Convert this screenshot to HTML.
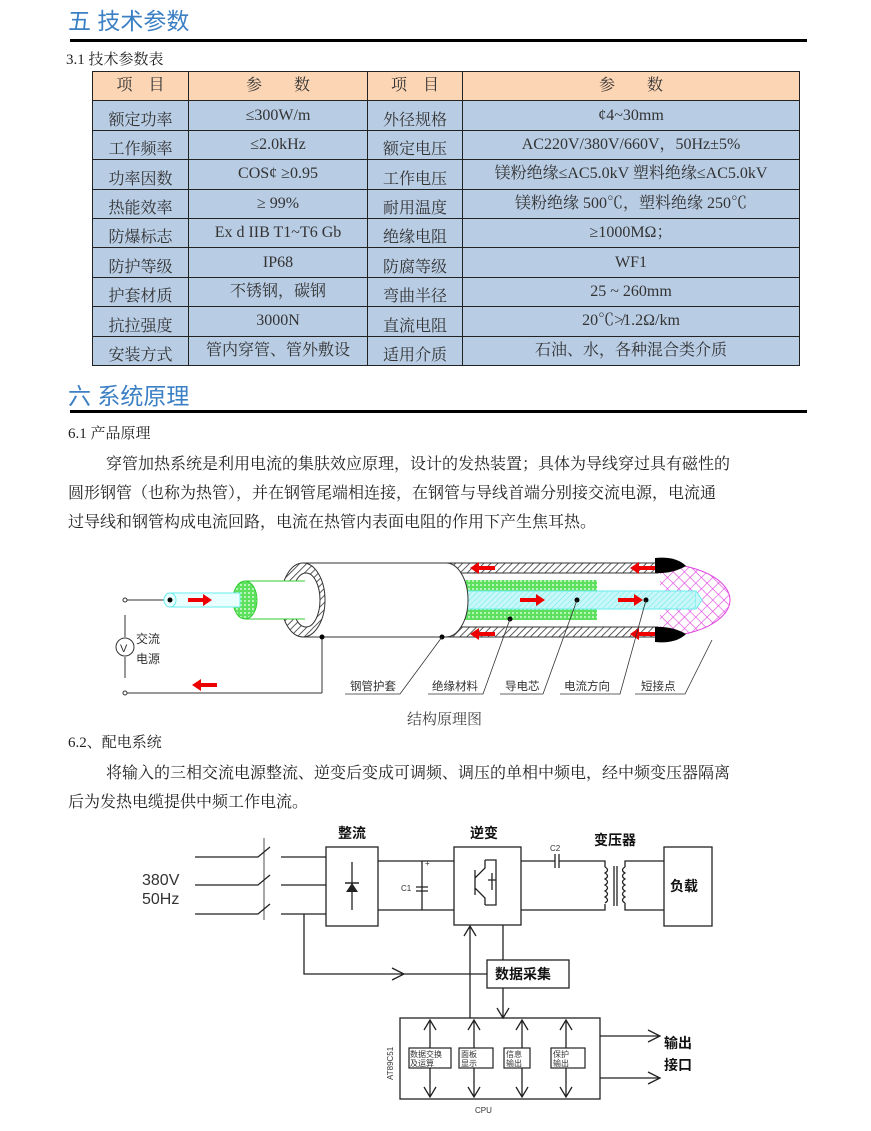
<!DOCTYPE html>
<html><head><meta charset="utf-8"><style>
body{margin:0;width:871px;height:1131px;background:#fff;position:relative;overflow:hidden;font-family:"Liberation Serif","Noto Serif CJK SC",serif;color:#222}
.a{position:absolute;white-space:nowrap}
.h{color:#3b7fc4;font-size:23px;font-family:"Liberation Sans","Noto Sans CJK SC",sans-serif}
.rule{position:absolute;left:70px;width:737px;height:3px;background:#000}
table{position:absolute;left:92px;top:71px;border-collapse:collapse;font-size:16px;table-layout:fixed;width:707px}
td{border:1.5px solid #222;text-align:center;padding:0;height:28px;line-height:18px;background:#b8cce4;color:#333;overflow:hidden;white-space:nowrap}
tr{height:29.4px}
tr:first-child td{background:#fcd5b4}
td.k{vertical-align:bottom}
.p{font-size:16px;left:68px;color:#222}
svg text{font-family:"Liberation Sans","Noto Sans CJK SC",sans-serif}
</style></head><body>
<div class="a h" style="left:68px;top:2px">五 技术参数</div>
<div class="rule" style="top:39px"></div>
<div class="a" style="left:66px;top:48px;font-size:15px">3.1 技术参数表</div>
<table>
<colgroup><col style="width:96px"><col style="width:179px"><col style="width:95px"><col style="width:337px"></colgroup>
<tr><td>项　目</td><td>参　　数</td><td>项　目</td><td>参　　数</td></tr>
<tr><td class="k">额定功率</td><td>≤300W/m</td><td class="k">外径规格</td><td>¢4~30mm</td></tr>
<tr><td class="k">工作频率</td><td>≤2.0kHz</td><td class="k">额定电压</td><td>AC220V/380V/660V，50Hz±5%</td></tr>
<tr><td class="k">功率因数</td><td>COS¢ ≥0.95</td><td class="k">工作电压</td><td>镁粉绝缘≤AC5.0kV 塑料绝缘≤AC5.0kV</td></tr>
<tr><td class="k">热能效率</td><td>≥ 99%</td><td class="k">耐用温度</td><td>镁粉绝缘 500℃，塑料绝缘 250℃</td></tr>
<tr><td class="k">防爆标志</td><td>Ex d IIB T1~T6 Gb</td><td class="k">绝缘电阻</td><td>≥1000MΩ；</td></tr>
<tr><td class="k">防护等级</td><td>IP68</td><td class="k">防腐等级</td><td>WF1</td></tr>
<tr><td class="k">护套材质</td><td>不锈钢，碳钢</td><td class="k">弯曲半径</td><td>25 ~ 260mm</td></tr>
<tr><td class="k">抗拉强度</td><td>3000N</td><td class="k">直流电阻</td><td>20℃≯1.2Ω/km</td></tr>
<tr><td class="k">安装方式</td><td>管内穿管、管外敷设</td><td class="k">适用介质</td><td>石油、水，各种混合类介质</td></tr>
</table>
<div class="a h" style="left:68px;top:377px">六 系统原理</div>
<div class="rule" style="top:410px"></div>
<div class="a p" style="top:422px;font-size:15px">6.1 产品原理</div>
<div class="a p" style="top:451px;left:106px">穿管加热系统是利用电流的集肤效应原理，设计的发热装置；具体为导线穿过具有磁性的</div>
<div class="a p" style="top:480px">圆形钢管（也称为热管），并在钢管尾端相连接，在钢管与导线首端分别接交流电源，电流通</div>
<div class="a p" style="top:509px">过导线和钢管构成电流回路，电流在热管内表面电阻的作用下产生焦耳热。</div>

<svg class="a" style="left:0;top:540px" width="871" height="200" viewBox="0 540 871 200">
<defs>
<pattern id="hat" width="5" height="5" patternUnits="userSpaceOnUse" patternTransform="rotate(45)"><rect width="5" height="5" fill="#fff"/><line x1="0" y1="0" x2="0" y2="5" stroke="#333" stroke-width="1.6"/></pattern>
<pattern id="grn" width="4" height="4" patternUnits="userSpaceOnUse"><rect width="4" height="4" fill="#5de05d"/><rect width="2" height="2" fill="#b8f5b8"/></pattern>
<pattern id="cy" width="4" height="4" patternUnits="userSpaceOnUse" patternTransform="rotate(45)"><rect width="4" height="4" fill="#c9f6f6"/><line x1="0" y1="0" x2="0" y2="4" stroke="#6ee" stroke-width="1"/></pattern>
<pattern id="mg" width="8" height="8" patternUnits="userSpaceOnUse" patternTransform="rotate(45)"><rect width="8" height="8" fill="#fff"/><path d="M0 0H8M0 0V8" stroke="#e040e0" stroke-width="1.2"/></pattern>
</defs>
<g stroke="#333" stroke-width="1" fill="none">
<line x1="127" y1="600" x2="168" y2="600"/><circle cx="125" cy="600" r="2"/>
<line x1="127" y1="693" x2="322" y2="693"/><circle cx="125" cy="693" r="2"/>
<line x1="322" y1="693" x2="322" y2="637"/>
<line x1="125" y1="615" x2="125" y2="637"/><line x1="125" y1="657" x2="125" y2="678"/>
<circle cx="125" cy="647" r="9"/>
</g>
<text x="120" y="652" font-size="11" fill="#333">V</text>
<text x="136" y="643" font-size="12" fill="#333">交流</text>
<text x="136" y="663" font-size="12" fill="#333">电源</text>
<path d="M655 563 A75 37 0 0 1 655 637 Z" fill="url(#mg)" stroke="#e040e0"/>
<rect x="303" y="563" width="357" height="74" fill="#fff"/>
<rect x="446" y="563" width="212" height="10" fill="url(#hat)" stroke="#333"/>
<rect x="446" y="627" width="212" height="10" fill="url(#hat)" stroke="#333"/>
<rect x="446" y="580" width="151" height="40" fill="url(#grn)"/>
<rect x="446" y="591" width="250" height="18" fill="url(#cy)" stroke="#6ee"/>
<path d="M696 591 L702 600 L696 609" fill="#c9f6f6" stroke="#6ee"/>
<path d="M655 558 Q676 556 686 566 Q672 574 655 573 Z" fill="#000"/>
<path d="M655 642 Q676 644 686 634 Q672 626 655 627 Z" fill="#000"/>
<path d="M303 563 H446 A22 37 0 0 1 446 637 H303" fill="#fff" stroke="#333"/>
<ellipse cx="303" cy="600" rx="22" ry="37" fill="url(#hat)" stroke="#333"/>
<ellipse cx="306" cy="600" rx="14" ry="27" fill="#fff" stroke="#333"/>
<rect x="245" y="581" width="60" height="38" fill="#fff"/>
<line x1="245" y1="581" x2="305" y2="581" stroke="#3c3"/><line x1="245" y1="619" x2="305" y2="619" stroke="#3c3"/>
<ellipse cx="245" cy="600" rx="12" ry="19" fill="url(#grn)" stroke="#3c3"/>
<rect x="170" y="593" width="70" height="14" fill="#eaffff" stroke="#6ee"/>
<ellipse cx="170" cy="600" rx="6" ry="7" fill="#eaffff" stroke="#6ee"/>
<circle cx="170" cy="600" r="2.5" fill="#000"/>
<g fill="#e00">
<path d="M188 598h15v-4l9 6-9 6v-4h-15z"/>
<path d="M520 598h16v-4l9 6-9 6v-4h-16z"/>
<path d="M618 598h16v-4l9 6-9 6v-4h-16z"/>
<path d="M495 566h-16v-4l-9 6 9 6v-4h16z"/>
<path d="M495 632h-16v-4l-9 6 9 6v-4h16z"/>
<path d="M655 566h-16v-4l-9 6 9 6v-4h16z"/>
<path d="M655 632h-16v-4l-9 6 9 6v-4h16z"/>
<path d="M217 683h-16v-4l-9 6 9 6v-4h16z"/>
</g>
<g fill="#000"><circle cx="322" cy="637" r="2.5"/><circle cx="442" cy="637" r="2.5"/><circle cx="510" cy="619" r="2.5"/><circle cx="577" cy="600" r="2.5"/><circle cx="646" cy="600" r="2.5"/></g>
<g stroke="#333" fill="none" stroke-width="0.8">
<path d="M442 637 L400 694 H345"/><path d="M510 619 L483 694 H428"/><path d="M577 600 L543 694 H500"/><path d="M646 600 L620 694 H560"/><path d="M712 640 L685 694 H635"/>
</g>
<g font-size="11.5" fill="#333"><text x="350" y="690">钢管护套</text><text x="432" y="690">绝缘材料</text><text x="505" y="690">导电芯</text><text x="564" y="690">电流方向</text><text x="641" y="690">短接点</text></g>
<text x="407" y="724" font-size="15" fill="#444" style="font-family:'Liberation Serif','Noto Serif CJK SC',serif">结构原理图</text>
</svg>

<div class="a p" style="top:731px;font-size:15px">6.2、配电系统</div>
<div class="a p" style="top:760px;left:106px">将输入的三相交流电源整流、逆变后变成可调频、调压的单相中频电，经中频变压器隔离</div>
<div class="a p" style="top:789px">后为发热电缆提供中频工作电流。</div>

<svg class="a" style="left:0;top:820px" width="871" height="311" viewBox="0 820 871 311">
<g stroke="#222" stroke-width="1.3" fill="none">
<path d="M195 857H258L270 847M195 885H258L270 875M195 914H258L270 904"/>
<line x1="264" y1="838" x2="264" y2="920" stroke-width="0.8"/>
<path d="M281 857H326M281 885H326M281 914H326"/>
<rect x="326" y="847" width="52" height="79"/>
<line x1="352" y1="862" x2="352" y2="910"/>
<rect x="454" y="847" width="67" height="78"/>
<path d="M378 861H454M378 910H454M422 861V910"/>
<path d="M416 887h12M416 891h12"/>
<path d="M521 861H555M559 861H605V867M521 910H605V904M555 854V868M559 854V868"/>
<path d="M605 867q5 3 0 6q5 3 0 6q5 3 0 6q5 3 0 6q5 3 0 6q5 3 0 6" />
<path d="M625 867q-5 3 0 6q-5 3 0 6q-5 3 0 6q-5 3 0 6q-5 3 0 6q-5 3 0 6M625 867V861H664M625 903V910H664"/>
<line x1="614" y1="866" x2="614" y2="906"/><line x1="617" y1="866" x2="617" y2="906"/>
<rect x="664" y="847" width="48" height="79"/>
<path d="M475 870V895M475 878L485 868V860M475 888L485 898V905M485 860H496V905H485M492 873V890M488 880H496"/>
<path d="M304 914V974H487M392 968L404 974L392 980"/>
<rect x="487" y="960" width="82" height="28"/>
<path d="M503 925V960M503 988V1018M497 1008L503 1018L509 1008"/>
<path d="M470 1018V926M464 936L470 926L476 936"/>
<rect x="400" y="1018" width="200" height="81"/>
<path d="M430 1020V1097M424 1030L430 1020L436 1030M424 1087L430 1097L436 1087"/>
<path d="M474 1020V1097M468 1030L474 1020L480 1030M468 1087L474 1097L480 1087"/>
<path d="M522 1020V1097M516 1030L522 1020L528 1030M516 1087L522 1097L528 1087"/>
<path d="M566 1020V1097M560 1030L566 1020L572 1030M560 1087L566 1097L572 1087"/>
<path d="M600 1036H660M648 1030L660 1036L648 1042M600 1078H660M648 1072L660 1078L648 1084"/>
</g>
<path d="M346 892h12l-6-9z" fill="#222"/><line x1="345" y1="883" x2="359" y2="883" stroke="#222" stroke-width="1.5"/>
<g fill="#fff" stroke="#222" stroke-width="1.2"><rect x="409" y="1048" width="42" height="20"/><rect x="459" y="1048" width="34" height="20"/><rect x="504" y="1048" width="26" height="20"/><rect x="551" y="1048" width="34" height="20"/></g>
<g fill="#111" font-weight="bold">
<text x="338" y="838" font-size="14">整流</text><text x="470" y="838" font-size="14">逆变</text><text x="594" y="845" font-size="14">变压器</text>
<text x="670" y="891" font-size="14">负载</text><text x="495" y="979" font-size="14">数据采集</text>
<text x="664" y="1048" font-size="14">输出</text><text x="664" y="1070" font-size="14">接口</text>
</g>
<g fill="#333" font-size="16"><text x="142" y="885">380V</text><text x="142" y="904">50Hz</text></g>
<g fill="#333" font-size="8"><text x="401" y="891">C1</text><text x="550" y="851">C2</text><text x="475" y="1113">CPU</text><text x="425" y="866">+</text>
<text x="410" y="1057">数据交换</text><text x="410" y="1066">及运算</text><text x="461" y="1057">面板</text><text x="461" y="1066">显示</text><text x="506" y="1057">信息</text><text x="506" y="1066">输出</text><text x="553" y="1057">保护</text><text x="553" y="1066">输出</text>
<text transform="translate(393,1080) rotate(-90)">AT89C51</text></g>
</svg>
</body></html>
